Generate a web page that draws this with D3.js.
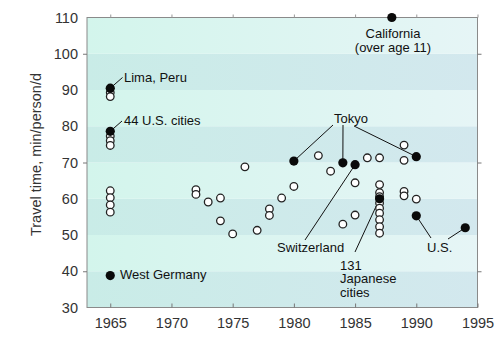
<!DOCTYPE html>
<html>
<head>
<meta charset="utf-8">
<script src="https://cdn.jsdelivr.net/npm/d3@7"></script>
<style>
  html, body { margin: 0; padding: 0; background: #fff; }
  svg { display: block; font-family: "Liberation Sans", Arial, sans-serif; }
</style>
</head>
<body>
<svg id="chart" width="500" height="340"></svg>
<script>
// Daily travel time budgets, min/person/d, by survey year
const openYears  = [1965, 1965, 1965, 1965, 1965, 1965, 1965, 1965, 1965,
                    1972, 1972, 1973, 1974, 1974, 1975, 1976, 1977, 1978, 1978, 1979, 1980,
                    1982, 1983, 1984, 1985, 1985, 1986,
                    1987, 1987, 1987, 1987, 1987, 1987, 1987, 1987, 1987, 1987,
                    1989, 1989, 1989, 1989, 1990];
const openValues = [89.3, 88.2, 77.3, 76.0, 74.7, 62.2, 60.3, 58.3, 56.3,
                    62.5, 61.2, 59.1, 60.2, 53.9, 50.3, 68.8, 51.3, 57.2, 55.4, 60.2, 63.4,
                    71.9, 67.6, 53.0, 64.4, 55.5, 71.3,
                    71.3, 63.9, 61.7, 60.6, 58.8, 57.4, 56.0, 54.2, 52.3, 50.5,
                    74.8, 70.6, 62.0, 60.8, 59.9];

const filledNames  = ["Lima", "US44", "WestGermany", "Tokyo80", "Tokyo84", "Switzerland",
                      "Japan131", "California", "Tokyo90", "US90", "US94"];
const filledYears  = [1965, 1965, 1965, 1980, 1984, 1985, 1987, 1988, 1990, 1990, 1994];
const filledValues = [90.5, 78.6, 38.8, 70.4, 69.9, 69.4, 60.0, 110, 71.6, 55.3, 52.0];

const xTicks = [1965, 1970, 1975, 1980, 1985, 1990, 1995];
const yTicks = [30, 40, 50, 60, 70, 80, 90, 100, 110];
const yTitle = "Travel time, min/person/d";

const svg = d3.select("#chart");
const plotL = 87, plotR = 477.5, plotT = 17.5, plotB = 307.5;

const x = d3.scaleLinear().domain([1963.1, 1995]).range([plotL, plotR]);
const y = d3.scaleLinear().domain([30, 110]).range([plotB, plotT]);

// plot background: alternating horizontal bands
const defs = svg.append("defs");
function grad(id, c0, c1) {
  const g = defs.append("linearGradient").attr("id", id)
    .attr("x1", "0%").attr("x2", "100%").attr("y1", "0%").attr("y2", "0%");
  g.append("stop").attr("offset", "0%").attr("stop-color", c0);
  g.append("stop").attr("offset", "100%").attr("stop-color", c1);
}
grad("bandLight", "#d3f5ec", "#e6f5f6");
grad("bandDark", "#c9ece7", "#d3e8ee");

const bands = d3.range(30, 110, 10);
svg.append("g").selectAll("rect").data(bands).join("rect")
  .attr("x", plotL)
  .attr("width", plotR - plotL)
  .attr("y", d => y(d + 10))
  .attr("height", d => y(d) - y(d + 10))
  .attr("fill", d => ((d / 10) % 2 === 1) ? "url(#bandDark)" : "url(#bandLight)");

// frame
svg.append("rect")
  .attr("x", plotL).attr("y", plotT)
  .attr("width", plotR - plotL).attr("height", plotB - plotT)
  .attr("fill", "none").attr("stroke", "#8a8a8a").attr("stroke-width", 1);

// axes
const xAxis = d3.axisBottom(x).tickValues(xTicks).tickFormat(d3.format("d"))
  .tickSizeInner(-4).tickSizeOuter(0).tickPadding(10);
const gx = svg.append("g").attr("transform", `translate(0,${plotB})`).call(xAxis);
gx.select(".domain").remove();
gx.selectAll(".tick line").attr("stroke", "#777");
gx.selectAll(".tick text").attr("font-size", 14.5).attr("fill", "#333")
  .attr("font-family", "Liberation Sans, Arial, sans-serif");

const gxTop = svg.append("g").attr("transform", `translate(0,${plotT})`)
  .call(d3.axisTop(x).tickValues(xTicks).tickSizeInner(3).tickSizeOuter(0).tickFormat(""));
gxTop.select(".domain").remove();
gxTop.selectAll(".tick line").attr("stroke", "#999");

const yAxis = d3.axisLeft(y).tickValues(yTicks).tickFormat(d3.format("d"))
  .tickSize(0).tickPadding(9);
const gy = svg.append("g").attr("transform", `translate(${plotL},0)`).call(yAxis);
gy.select(".domain").remove();
gy.selectAll(".tick text").attr("font-size", 14.5).attr("fill", "#333")
  .attr("font-family", "Liberation Sans, Arial, sans-serif");

const markTicks = [40, 70, 100];
svg.append("g").attr("transform", `translate(${plotL},0)`)
  .call(d3.axisLeft(y).tickValues(markTicks).tickSize(4).tickFormat(""))
  .call(g => g.select(".domain").remove())
  .selectAll("line").attr("stroke", "#777");
svg.append("g").attr("transform", `translate(${plotR},0)`)
  .call(d3.axisRight(y).tickValues(markTicks).tickSize(4).tickFormat(""))
  .call(g => g.select(".domain").remove())
  .selectAll("line").attr("stroke", "#777");

svg.append("text")
  .attr("transform", `translate(41,${(plotT + plotB) / 2 - 8}) rotate(-90)`)
  .attr("text-anchor", "middle")
  .attr("font-size", 14.5)
  .attr("fill", "#333")
  .text(yTitle);

// leader lines
const P = name => {
  const i = filledNames.indexOf(name);
  return [x(filledYears[i]), y(filledValues[i])];
};
const leaders = [
  [P("Lima"), [122.5, 77.5]],
  [P("US44"), [122, 121]],
  [P("Tokyo80"), [333, 125]],
  [P("Tokyo84"), [343, 125]],
  [P("Tokyo90"), [354, 126]],
  [P("Switzerland"), [305, 240]],
  [P("Japan131"), [355, 252]],
  [P("US90"), [431, 238]],
  [P("US94"), [448, 239]]
];
svg.append("g").selectAll("line").data(leaders).join("line")
  .attr("x1", d => d[0][0]).attr("y1", d => d[0][1])
  .attr("x2", d => d[1][0]).attr("y2", d => d[1][1])
  .attr("stroke", "#111").attr("stroke-width", 1);

// open markers
svg.append("g").selectAll("circle").data(openYears).join("circle")
  .attr("cx", d => x(d))
  .attr("cy", (d, i) => y(openValues[i]))
  .attr("r", 3.8)
  .attr("fill", "#fff")
  .attr("stroke", "#222")
  .attr("stroke-width", 1.3);

// filled markers
svg.append("g").selectAll("circle").data(filledYears).join("circle")
  .attr("cx", d => x(d))
  .attr("cy", (d, i) => y(filledValues[i]))
  .attr("r", 4.6)
  .attr("fill", "#0a0a0a");

// annotation text
const notes = [
  { t: "Lima, Peru", x: 124, y: 82, a: "start" },
  { t: "44 U.S. cities", x: 124, y: 125, a: "start" },
  { t: "West Germany", x: 120, y: 278.5, a: "start" },
  { t: "California", x: 393, y: 37.5, a: "middle" },
  { t: "(over age 11)", x: 393, y: 51.5, a: "middle" },
  { t: "Tokyo", x: 351, y: 122.5, a: "middle" },
  { t: "Switzerland", x: 277, y: 251.5, a: "start" },
  { t: "131", x: 340, y: 269.5, a: "start" },
  { t: "Japanese", x: 340, y: 283, a: "start" },
  { t: "cities", x: 340, y: 296.5, a: "start" },
  { t: "U.S.", x: 427, y: 251.5, a: "start" }
];
svg.append("g").selectAll("text").data(notes).join("text")
  .attr("x", d => d.x).attr("y", d => d.y)
  .attr("text-anchor", d => d.a)
  .attr("font-size", 13)
  .attr("fill", "#111")
  .text(d => d.t);
</script>
</body>
</html>
